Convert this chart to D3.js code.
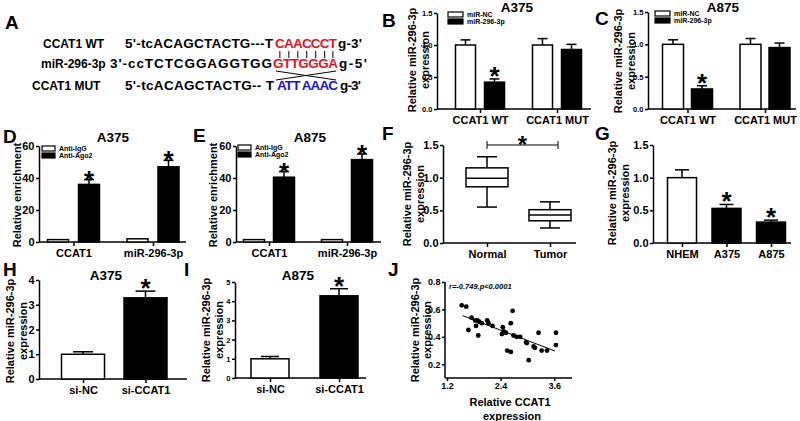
<!DOCTYPE html>
<html><head><meta charset="utf-8">
<script src="https://cdn.jsdelivr.net/npm/d3@7"></script>
<style>
body{margin:0;background:#fff}
svg{display:block}
text{font-family:"Liberation Sans",Arial,sans-serif;font-weight:bold;fill:#000}
</style></head>
<body><svg id="fig" width="800" height="421"></svg>
<script>
// ---------------- DATA ----------------
// Panel A: sequences
const seqLabels = ["CCAT1 WT", "miR-296-3p", "CCAT1 MUT"];
const seqPrefix = ["5'-tcACAGCTACTG---T", "3'-ccTCTCGGAGGTGG", "5'-tcACAGCTACTG-- T"];
const seqSite   = ["CAACCCT", "GTTGGGA", "ATT AAAC"];
const seqSuffix = ["g-3'", "g-5'", "g-3'"];

// Panels B, C: luciferase
const lucCategories = ["CCAT1 WT", "CCAT1 MUT"];
const lucSeries = ["miR-NC", "miR-296-3p"];
const bNC = [1.0, 1.0], bNCerr = [0.08, 0.10];
const bMiR = [0.42, 0.93], bMiRerr = [0.05, 0.08];
const cNC = [1.0, 1.0], cNCerr = [0.07, 0.09];
const cMiR = [0.31, 0.95], cMiRerr = [0.05, 0.07];
const lucTicks = [0, 0.5, 1.0, 1.5];

// Panels D, E: RIP
const ripCategories = ["CCAT1", "miR-296-3p"];
const ripSeries = ["Anti-IgG", "Anti-Ago2"];
const dIgG = [1.5, 2.0], dIgGerr = [0, 0];
const dAgo = [36, 47], dAgoErr = [3, 4];
const eIgG = [1.5, 1.5], eIgGerr = [0, 0];
const eAgo = [40.5, 51.5], eAgoErr = [3.5, 3.5];
const ripTicks = [0, 20, 40, 60];

// Panel F: box plot
const boxGroups = ["Normal", "Tumor"];
const boxMin = [0.55, 0.23];
const boxQ1  = [0.86, 0.34];
const boxMed = [0.99, 0.43];
const boxQ3  = [1.15, 0.51];
const boxMax = [1.32, 0.63];
const relTicks = [0, 0.5, 1.0, 1.5];

// Panel G: cell lines
const cellLines = ["NHEM", "A375", "A875"];
const cellVals = [1.0, 0.53, 0.32];
const cellErr = [0.12, 0.06, 0.03];

// Panels H, I: knockdown
const kdCategories = ["si-NC", "si-CCAT1"];
const hVals = [1.0, 3.28], hErr = [0.1, 0.27];
const iVals = [1.0, 4.28], iErr = [0.12, 0.37];
const hTicks = [0, 1, 2, 3, 4];
const iTicks = [0, 1, 2, 3, 4, 5];

// Panel J: correlation
const ccat1Expr = [1.53,1.63,1.68,1.75,1.83,1.88,1.92,1.85,1.90,1.98,2.10,2.13,2.22,2.45,2.43,2.47,2.52,2.63,2.67,2.69,2.76,2.55,2.63,2.84,2.97,2.99,3.14,3.17,3.03,3.25,3.32,3.44,3.64,3.64];
const mirExpr   = [0.63,0.62,0.45,0.54,0.52,0.52,0.51,0.48,0.41,0.50,0.52,0.50,0.48,0.47,0.42,0.44,0.43,0.50,0.59,0.41,0.40,0.30,0.29,0.40,0.36,0.355,0.33,0.32,0.23,0.43,0.30,0.30,0.43,0.34];
const fitSlope = -0.125, fitIntercept = 0.749;
const fitRange = [1.55, 3.62];
const jXTicks = [1.2, 2.4, 3.6];
const jYTicks = [0.2, 0.4, 0.6, 0.8];
const corrText = "r=-0.749,p<0.0001";

// ---------------- DRAWING ----------------
const svg = d3.select("#fig");
const AX = 1.5;
const YLFS = 11;

function txt(g, x, y, s, size, anchor="start") {
  return g.append("text").attr("x", x).attr("y", y).attr("font-size", size)
    .attr("text-anchor", anchor).style("font-weight", "bold").text(s);
}
function styleAxis(sel, fs) {
  sel.selectAll("path,line").attr("stroke", "#000").attr("stroke-width", AX);
  sel.selectAll("text").attr("font-size", fs).attr("fill", "#000")
     .style("font-family", "'Liberation Sans',Arial,sans-serif").style("font-weight", "bold");
}
function yLabel(g, x, yc, lines, size, gap) {
  lines.forEach((l, i) => {
    txt(g, 0, 0, l, size, "middle")
      .attr("transform", `translate(${x + i * gap},${yc}) rotate(-90)`);
  });
}
function panelLetter(x, y, s) { txt(svg, x, y, s, 19); }

// ---- Panel A ----
(function () {
  const g = svg.append("g");
  panelLetter(5, 29, "A");
  const rowsY = [48, 68, 90];
  const labelX = [43, 41, 32];
  const prefSpan = [[125, 273], [110, 272], [125, 274]];
  const siteSpan = [[275, 337], [273, 338], [277, 338]];
  const sufSpan = [[338, 362], [339, 367], [340, 361]];
  const siteCol = ["#e3141c", "#e3141c", "#1515e0"];
  const fs = 12, sfs = 13.5;
  const siteEls = [];
  seqLabels.forEach((lab, i) => {
    txt(g, labelX[i], rowsY[i], lab, fs);
    txt(g, prefSpan[i][0], rowsY[i], seqPrefix[i], sfs)
      .attr("textLength", prefSpan[i][1] - prefSpan[i][0]).attr("lengthAdjust", "spacing");
    siteEls.push(txt(g, siteSpan[i][0], rowsY[i], seqSite[i], sfs)
      .attr("textLength", siteSpan[i][1] - siteSpan[i][0]).attr("lengthAdjust", "spacing")
      .style("fill", siteCol[i]));
    txt(g, sufSpan[i][0], rowsY[i], seqSuffix[i], sfs)
      .attr("textLength", sufSpan[i][1] - sufSpan[i][0]).attr("lengthAdjust", "spacing");
  });
  const node = siteEls[0].node();
  for (let k = 0; k < seqSite[0].length; k++) {
    const ext = node.getExtentOfChar(k);
    const cx = ext.x + ext.width / 2;
    g.append("line").attr("x1", cx).attr("x2", cx).attr("y1", 51).attr("y2", 58)
      .attr("stroke", "#000").attr("stroke-width", 1);
  }
  const s0 = siteSpan[1][0] + 3, s1 = siteSpan[1][1] - 2;
  g.append("line").attr("x1", s0).attr("y1", 71).attr("x2", s1).attr("y2", 80).attr("stroke", "#000").attr("stroke-width", 1);
  g.append("line").attr("x1", s0).attr("y1", 80).attr("x2", s1).attr("y2", 71).attr("stroke", "#000").attr("stroke-width", 1);
})();

// ---- generic bar panel ----
function barPanel(p) {
  const g = svg.append("g");
  const y = d3.scaleLinear().domain(p.yDomain).range(p.yRange);
  const x = d3.scalePoint().domain(p.cats).range(p.centers);
  const ya = g.append("g").attr("transform", `translate(${p.axisX[0]},0)`)
    .call(d3.axisLeft(y).tickValues(p.yTicks).tickFormat(p.yFmt).tickSize(3).tickSizeOuter(0).tickPadding(1.5));
  styleAxis(ya, p.tickFs);
  g.append("line").attr("x1", p.axisX[0]).attr("x2", p.axisX[1])
    .attr("y1", y(p.yDomain[0])).attr("y2", y(p.yDomain[0]))
    .attr("stroke", "#000").attr("stroke-width", AX);
  const xa = g.append("g").attr("transform", `translate(0,${y(p.yDomain[0])})`)
    .call(d3.axisBottom(x).tickSize(4).tickPadding(p.catPad || 3));
  xa.select(".domain").remove();
  styleAxis(xa, p.catFs);
  p.series.forEach((s, si) => {
    const off = p.offsets[si];
    const bars = g.append("g");
    p.cats.forEach((c, ci) => {
      const cx = x(c) + off;
      const v = s.vals[ci], e = s.errs[ci];
      if (v === null) return;
      if (e > 0) {
        g.append("line").attr("x1", cx).attr("x2", cx).attr("y1", y(v)).attr("y2", y(v + e))
          .attr("stroke", "#000").attr("stroke-width", AX);
        g.append("line").attr("x1", cx - p.capW / 2).attr("x2", cx + p.capW / 2)
          .attr("y1", y(v + e)).attr("y2", y(v + e)).attr("stroke", "#000").attr("stroke-width", AX);
      }
      bars.append("rect").attr("x", cx - p.barW / 2).attr("y", y(v))
        .attr("width", p.barW).attr("height", y(p.yDomain[0]) - y(v))
        .attr("fill", s.fill).attr("stroke", "#000").attr("stroke-width", AX);
      if (s.stars && s.stars[ci]) {
        txt(g, cx, y(v + e) + p.starDy, "*", p.starFs, "middle");
      }
    });
  });
  if (p.legend) {
    p.legend.names.forEach((n, i) => {
      const ly = p.legend.y + i * p.legend.dy;
      g.append("rect").attr("x", p.legend.x).attr("y", ly).attr("width", p.legend.w).attr("height", p.legend.h)
        .attr("fill", p.series[i].fill).attr("stroke", "#000").attr("stroke-width", 1.2);
      txt(g, p.legend.x + p.legend.w + 4, ly + p.legend.h, n, p.legend.fs);
    });
  }
  if (p.title) txt(g, p.title.x, p.title.y, p.title.s, 13.5, "middle");
  yLabel(g, p.yLab.x, p.yLab.y, p.yLab.lines, YLFS, 13);
  return { g, x, y };
}

const fmt1 = d3.format(".1f");
const fmt0 = d3.format("d");

// ---- Panel B ----
panelLetter(382, 27, "B");
barPanel({
  cats: lucCategories, centers: [480, 557], offsets: [-14.5, 14.5], barW: 20, capW: 10,
  yDomain: [0, 1.5], yRange: [109, 13], yTicks: lucTicks, yFmt: fmt1, tickFs: 7.5,
  axisX: [437, 591], catFs: 11, catPad: 3,
  series: [
    { vals: bNC, errs: bNCerr, fill: "#fff" },
    { vals: bMiR, errs: bMiRerr, fill: "#000", stars: [true, false] }
  ],
  starFs: 26, starDy: 6,
  legend: { names: lucSeries, x: 448, y: 12, dy: 7, w: 15, h: 5, fs: 7 },
  title: { x: 517, y: 12, s: "A375" },
  yLab: { x: 416, y: 60, lines: ["Relative miR-296-3p", "expression"] }
});

// ---- Panel C ----
panelLetter(595, 25, "C");
barPanel({
  cats: lucCategories, centers: [687.5, 765], offsets: [-14.5, 14.5], barW: 21, capW: 10,
  yDomain: [0, 1.5], yRange: [109, 12], yTicks: lucTicks, yFmt: fmt1, tickFs: 7.5,
  axisX: [648, 796], catFs: 11, catPad: 3,
  series: [
    { vals: cNC, errs: cNCerr, fill: "#fff" },
    { vals: cMiR, errs: cMiRerr, fill: "#000", stars: [true, false] }
  ],
  starFs: 26, starDy: 6,
  legend: { names: lucSeries, x: 655, y: 11, dy: 7, w: 15, h: 5, fs: 7 },
  title: { x: 723, y: 12, s: "A875" },
  yLab: { x: 622, y: 61, lines: ["Relative miR-296-3p", "expression"] }
});

// ---- Panel D ----
panelLetter(3, 143, "D");
barPanel({
  cats: ripCategories, centers: [73.5, 153], offsets: [-15.5, 15.5], barW: 21, capW: 10,
  yDomain: [0, 60], yRange: [242, 146], yTicks: ripTicks, yFmt: fmt0, tickFs: 11,
  axisX: [39, 186], catFs: 11, catPad: 3,
  series: [
    { vals: dIgG, errs: dIgGerr, fill: "#fff" },
    { vals: dAgo, errs: dAgoErr, fill: "#000", stars: [true, true] }
  ],
  starFs: 26, starDy: 9,
  legend: { names: ripSeries, x: 42, y: 146, dy: 7, w: 13, h: 5, fs: 7 },
  title: { x: 113, y: 142, s: "A375" },
  yLab: { x: 21, y: 195, lines: ["Relative enrichment"] }
});

// ---- Panel E ----
panelLetter(193, 142, "E");
barPanel({
  cats: ripCategories, centers: [269, 347], offsets: [-15, 15], barW: 21, capW: 10,
  yDomain: [0, 60], yRange: [242, 146], yTicks: ripTicks, yFmt: fmt0, tickFs: 11,
  axisX: [236, 381], catFs: 11, catPad: 3,
  series: [
    { vals: eIgG, errs: eIgGerr, fill: "#fff" },
    { vals: eAgo, errs: eAgoErr, fill: "#000", stars: [true, true] }
  ],
  starFs: 26, starDy: 9,
  legend: { names: ripSeries, x: 238, y: 145, dy: 7, w: 13, h: 5, fs: 7 },
  title: { x: 310, y: 142, s: "A875" },
  yLab: { x: 217, y: 195, lines: ["Relative enrichment"] }
});

// ---- Panel F (box plot) ----
(function () {
  panelLetter(382, 140, "F");
  const g = svg.append("g");
  const y = d3.scaleLinear().domain([0, 1.5]).range([243, 145]);
  const x = d3.scalePoint().domain(boxGroups).range([487, 550]);
  const ya = g.append("g").attr("transform", "translate(443,0)")
    .call(d3.axisLeft(y).tickValues(relTicks).tickFormat(fmt1).tickSize(3).tickSizeOuter(0).tickPadding(1.5));
  styleAxis(ya, 11);
  g.append("line").attr("x1", 443).attr("x2", 576).attr("y1", y(0)).attr("y2", y(0)).attr("stroke", "#000").attr("stroke-width", AX);
  const xa = g.append("g").attr("transform", `translate(0,${y(0)})`).call(d3.axisBottom(x).tickSize(4).tickPadding(3));
  xa.select(".domain").remove();
  styleAxis(xa, 11);
  const bw = 42, cw = 20;
  const L = (x1, y1, x2, y2, w) => g.append("line").attr("x1", x1).attr("y1", y1).attr("x2", x2).attr("y2", y2).attr("stroke", "#000").attr("stroke-width", w || AX);
  boxGroups.forEach((b, i) => {
    const cx = x(b);
    L(cx, y(boxMax[i]), cx, y(boxQ3[i]));
    L(cx, y(boxQ1[i]), cx, y(boxMin[i]));
    L(cx - cw / 2, y(boxMax[i]), cx + cw / 2, y(boxMax[i]));
    L(cx - cw / 2, y(boxMin[i]), cx + cw / 2, y(boxMin[i]));
    g.append("rect").attr("x", cx - bw / 2).attr("y", y(boxQ3[i])).attr("width", bw)
      .attr("height", y(boxQ1[i]) - y(boxQ3[i])).attr("fill", "#fff").attr("stroke", "#000").attr("stroke-width", AX);
    L(cx - bw / 2, y(boxMed[i]), cx + bw / 2, y(boxMed[i]));
  });
  const by = y(1.5);
  const x0 = x(boxGroups[0]), x1 = x(boxGroups[1]) + 8;
  L(x0, by, x1, by, 1); L(x0, by - 4, x0, by + 4, 1); L(x1, by - 4, x1, by + 4, 1);
  txt(g, (x0 + x1) / 2, by + 8, "*", 24, "middle");
  yLabel(g, 411, 194, ["Relative miR-296-3p", "expression"], YLFS, 13);
})();

// ---- Panel G ----
panelLetter(595, 140, "G");
(function () {
  const g = svg.append("g");
  const y = d3.scaleLinear().domain([0, 1.5]).range([243, 145]);
  const x = d3.scalePoint().domain(cellLines).range([682, 771]);
  const ya = g.append("g").attr("transform", "translate(653,0)")
    .call(d3.axisLeft(y).tickValues(relTicks).tickFormat(fmt1).tickSize(3).tickSizeOuter(0).tickPadding(1.5));
  styleAxis(ya, 11);
  g.append("line").attr("x1", 653).attr("x2", 791).attr("y1", y(0)).attr("y2", y(0)).attr("stroke", "#000").attr("stroke-width", AX);
  const xa = g.append("g").attr("transform", `translate(0,${y(0)})`).call(d3.axisBottom(x).tickSize(4).tickPadding(3));
  xa.select(".domain").remove();
  styleAxis(xa, 11);
  const bw = 29;
  cellLines.forEach((c, i) => {
    const cx = x(c), v = cellVals[i], e = cellErr[i];
    g.append("line").attr("x1", cx).attr("x2", cx).attr("y1", y(v)).attr("y2", y(v + e)).attr("stroke", "#000").attr("stroke-width", AX);
    g.append("line").attr("x1", cx - 7).attr("x2", cx + 7).attr("y1", y(v + e)).attr("y2", y(v + e)).attr("stroke", "#000").attr("stroke-width", AX);
    g.append("rect").attr("x", cx - bw / 2).attr("y", y(v)).attr("width", bw).attr("height", y(0) - y(v))
      .attr("fill", i === 0 ? "#fff" : "#000").attr("stroke", "#000").attr("stroke-width", AX);
    if (i > 0) txt(g, cx, y(v + e) + 6, "*", 26, "middle");
  });
  yLabel(g, 616, 193, ["Relative miR-296-3p", "expression"], YLFS, 13);
})();

// ---- Panel H ----
panelLetter(3, 276, "H");
barPanel({
  cats: kdCategories, centers: [83, 145.5], offsets: [0, 0], barW: 43, capW: 20,
  yDomain: [0, 4], yRange: [379, 280], yTicks: hTicks, yFmt: fmt0, tickFs: 11,
  axisX: [39, 187], catFs: 11, catPad: 3,
  series: [
    { vals: [hVals[0], null], errs: [hErr[0], 0], fill: "#fff" },
    { vals: [null, hVals[1]], errs: [0, hErr[1]], fill: "#000", stars: [false, true] }
  ],
  starFs: 26, starDy: 6,
  title: { x: 106, y: 280, s: "A375" },
  yLab: { x: 14, y: 331, lines: ["Relative miR-296-3p", "expression"] }
});

// ---- Panel I ----
panelLetter(184, 276, "I");
barPanel({
  cats: kdCategories, centers: [270, 339], offsets: [0, 0], barW: 38, capW: 18,
  yDomain: [0, 5], yRange: [378, 282], yTicks: iTicks, yFmt: fmt0, tickFs: 7.5,
  axisX: [235, 366], catFs: 11, catPad: 3,
  series: [
    { vals: [iVals[0], null], errs: [iErr[0], 0], fill: "#fff" },
    { vals: [null, iVals[1]], errs: [0, iErr[1]], fill: "#000", stars: [false, true] }
  ],
  starFs: 26, starDy: 6,
  title: { x: 298, y: 280, s: "A875" },
  yLab: { x: 210, y: 330, lines: ["Relative miR-296-3p", "expression"] }
});

// ---- Panel J ----
panelLetter(388, 276, "J");
(function () {
  const g = svg.append("g");
  const x = d3.scaleLinear().domain([1.2, 4.0]).range([447, 572]);
  const y = d3.scaleLinear().domain([0.1, 0.8]).range([378, 282]);
  const ya = g.append("g").attr("transform", "translate(445,0)")
    .call(d3.axisLeft(y).tickValues(jYTicks).tickFormat(fmt1).tickSize(3).tickSizeOuter(0).tickPadding(1.5));
  ya.select(".domain").attr("d", `M0,${y(0.1)}V${y(0.8)}`);
  styleAxis(ya, 9);
  const xa = g.append("g").attr("transform", "translate(0,378)")
    .call(d3.axisBottom(x).tickValues(jXTicks).tickFormat(fmt1).tickSize(3).tickSizeOuter(0).tickPadding(2));
  xa.select(".domain").attr("d", `M445,0H572`);
  styleAxis(xa, 9);
  g.selectAll("circle").data(ccat1Expr).enter().append("circle")
    .attr("cx", (d) => x(d)).attr("cy", (d, i) => y(mirExpr[i])).attr("r", 2.4).attr("fill", "#000");
  g.append("line").attr("x1", x(fitRange[0])).attr("x2", x(fitRange[1]))
    .attr("y1", y(fitIntercept + fitSlope * fitRange[0])).attr("y2", y(fitIntercept + fitSlope * fitRange[1]))
    .attr("stroke", "#000").attr("stroke-width", 1);
  txt(g, 449, 289, corrText, 7.5).attr("font-style", "italic");
  yLabel(g, 419, 330, ["Relative miR-296-3p", "expression"], YLFS, 12);
  txt(g, 510, 406, "Relative CCAT1", YLFS, "middle");
  txt(g, 512, 420, "expression", YLFS, "middle");
})();
</script>
</body></html>
